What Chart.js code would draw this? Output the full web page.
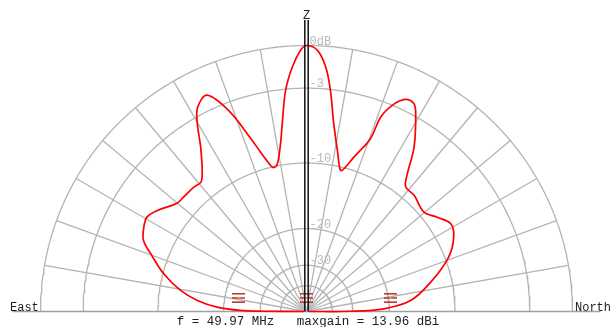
<!DOCTYPE html>
<html>
<head>
<meta charset="utf-8">
<script src="https://cdn.jsdelivr.net/npm/chart.js@4"></script>
<style>
html, body { margin: 0; padding: 0; background: #fff; }
#chartContainer { width: 612px; height: 327px; position: relative; }
</style>
</head>
<body>
<div id="chartContainer"><canvas id="myChart"></canvas></div>
<script>
// Elevation pattern: angle from East horizon (deg) and relative gain (dB)
var patternAngle = [0, 0.3, 0.9, 2.8, 5.8, 9.5, 14.8, 20.3, 23.6, 27.4, 30.6, 34.1, 39.9, 42.9, 47.7, 50.7,
    52.9, 57.2, 59.8, 61.9, 65.3, 68.8, 72.1, 73.9, 76.2, 77.1, 78.8, 81.2, 82.8, 84.6, 86.7, 88.7,
    90, 92.4, 94.5, 96.2, 98.0, 101.2, 103.6, 105.1, 107.0, 110.3, 110.9, 112.8, 115.0, 117.3, 118.9,
    123.2, 126.2, 128.5, 132.8, 139.8, 144.2, 148.7, 153.2, 159.1, 166.7, 174.0, 178.0, 179.7, 180];
var patternGain = [-80, -31, -23.9, -18.7, -15.2, -12.6, -10.1, -8.1, -6.9, -6.4, -6.2, -6.7, -7.8, -7.9, -7.9, -8.0,
    -7.4, -5.3, -3.5, -2.4, -1.9, -3.6, -6.5, -8.1, -9.8, -10.1, -9.8, -7.7, -5.6, -3.1, -1.4, -0.3,
    0, -0.3, -1.4, -3.1, -5.5, -8.6, -10.4, -9.9, -8.6, -6.3, -4.2, -2.9, -2.2, -2.2, -2.8,
    -5.2, -7.6, -8.8, -8.9, -9.4, -8.6, -7.8, -8.2, -9.6, -12.6, -16.0, -21.2, -31, -80];

// Rings (ARRL log scale) and their labels
var ringLevels = [0, -3, -10, -20, -30, -40];
var ringLabels = ['0dB', '-3', '-10', '-20', '-30', ''];
var spokeAngles = [10, 20, 30, 40, 50, 60, 70, 80, 100, 110, 120, 130, 140, 150, 160, 170];

// Antenna elements seen from the side (horizontal position, height), in outer-ring units
var elementPos = [-0.254, 0, 0.316];
var elementHeight = [0.051, 0.051, 0.051];

var leftLabel = 'East';
var rightLabel = 'North';
var zenithLabel = 'Z';
var footerText = 'f = 49.97 MHz   maxgain = 13.96 dBi';

var FONT = '"Liberation Mono", "DejaVu Sans Mono", monospace';

function arrlRadius(db) {
    return Math.pow(0.89, -db / 2);
}

function polarPoint(angle, db) {
    var r = arrlRadius(db);
    var a = angle * Math.PI / 180;
    return { x: -r * Math.cos(a), y: r * Math.sin(a) };
}

// Symbol for one antenna element
function makeElementIcon() {
    var c = document.createElement('canvas');
    c.width = 13;
    c.height = 10;
    var g = c.getContext('2d');
    g.fillStyle = '#b83a3a';
    g.fillRect(0, 0, 13, 1.6);
    g.fillRect(0, 4.2, 13, 1.6);
    g.fillRect(0, 8.4, 13, 1.6);
    g.fillStyle = '#f2a21e';
    g.fillRect(5.5, 4, 2, 2);
    return c;
}

document.addEventListener('DOMContentLoaded', function () {
    var datasets = [];

    // Zenith double line
    var zTop = 291.5 / 266;
    [-1.7 / 266, 1.7 / 266].forEach(function (dx) {
        datasets.push({
            data: [{ x: dx, y: 0 }, { x: dx, y: zTop }],
            borderColor: '#111', borderWidth: 1.5, showLine: true, pointRadius: 0, order: 0
        });
    });

    // Pattern
    var pattern = patternAngle.map(function (a, i) { return polarPoint(a, patternGain[i]); });
    datasets.push({
        data: pattern, borderColor: '#ff0000', borderWidth: 1.7, showLine: true,
        pointRadius: 0, tension: 0.35, order: 1
    });

    // Elements
    var icon = makeElementIcon();
    datasets.push({
        data: elementPos.map(function (p, i) { return { x: p, y: elementHeight[i] }; }),
        pointStyle: icon, pointRadius: 6, showLine: false, order: 2
    });

    // Rings
    ringLevels.forEach(function (lvl) {
        var pts = [];
        for (var a = 0; a <= 180; a += 1) pts.push(polarPoint(a, lvl));
        datasets.push({
            data: pts, borderColor: '#b4b4b4', borderWidth: 1.3, showLine: true, pointRadius: 0, order: 5
        });
    });

    // Spokes
    spokeAngles.forEach(function (a) {
        datasets.push({
            data: [{ x: 0, y: 0 }, polarPoint(a, 0)],
            borderColor: '#b4b4b4', borderWidth: 1.3, showLine: true, pointRadius: 0, order: 5
        });
    });

    // Horizon
    datasets.push({
        data: [{ x: -294 / 266, y: 0 }, { x: 294 / 266, y: 0 }],
        borderColor: '#a0a0a0', borderWidth: 1.5, showLine: true, pointRadius: 0, order: 4
    });

    var textPlugin = {
        id: 'patternText',
        afterDatasetsDraw: function (chart) {
            var ctx = chart.ctx;
            var xs = chart.scales.x, ys = chart.scales.y;
            var cx = xs.getPixelForValue(0), cy = ys.getPixelForValue(0);
            ctx.save();
            ctx.textBaseline = 'alphabetic';

            // ring labels
            ctx.font = '12px ' + FONT;
            ctx.fillStyle = '#b8b8b8';
            ctx.textAlign = 'left';
            ringLevels.forEach(function (lvl, i) {
                if (!ringLabels[i]) return;
                var y = ys.getPixelForValue(arrlRadius(lvl));
                ctx.fillText(ringLabels[i], cx + 3, y - 1);
            });

            ctx.fillStyle = '#222';
            ctx.textAlign = 'center';
            ctx.fillText(zenithLabel, cx, ys.getPixelForValue(zTop) - 1.5);

            ctx.textAlign = 'left';
            ctx.fillText(leftLabel, 10, cy - 1);
            ctx.fillText(rightLabel, 575, cy - 1);

            ctx.font = '12.5px ' + FONT;
            ctx.textAlign = 'center';
            ctx.fillText(footerText, cx + 1.5, cy + 13.5);
            ctx.restore();
        }
    };

    new Chart(document.getElementById('myChart').getContext('2d'), {
        type: 'scatter',
        data: { datasets: datasets },
        options: {
            responsive: true,
            maintainAspectRatio: false,
            animation: false,
            layout: { padding: 0, autoPadding: false },
            plugins: { legend: { display: false }, tooltip: { enabled: false } },
            scales: {
                x: { type: 'linear', min: -306.5 / 266, max: 305.5 / 266, display: false },
                y: { type: 'linear', min: -15.5 / 266, max: 311.5 / 266, display: false }
            }
        },
        plugins: [textPlugin]
    });
});
</script>
</body>
</html>
